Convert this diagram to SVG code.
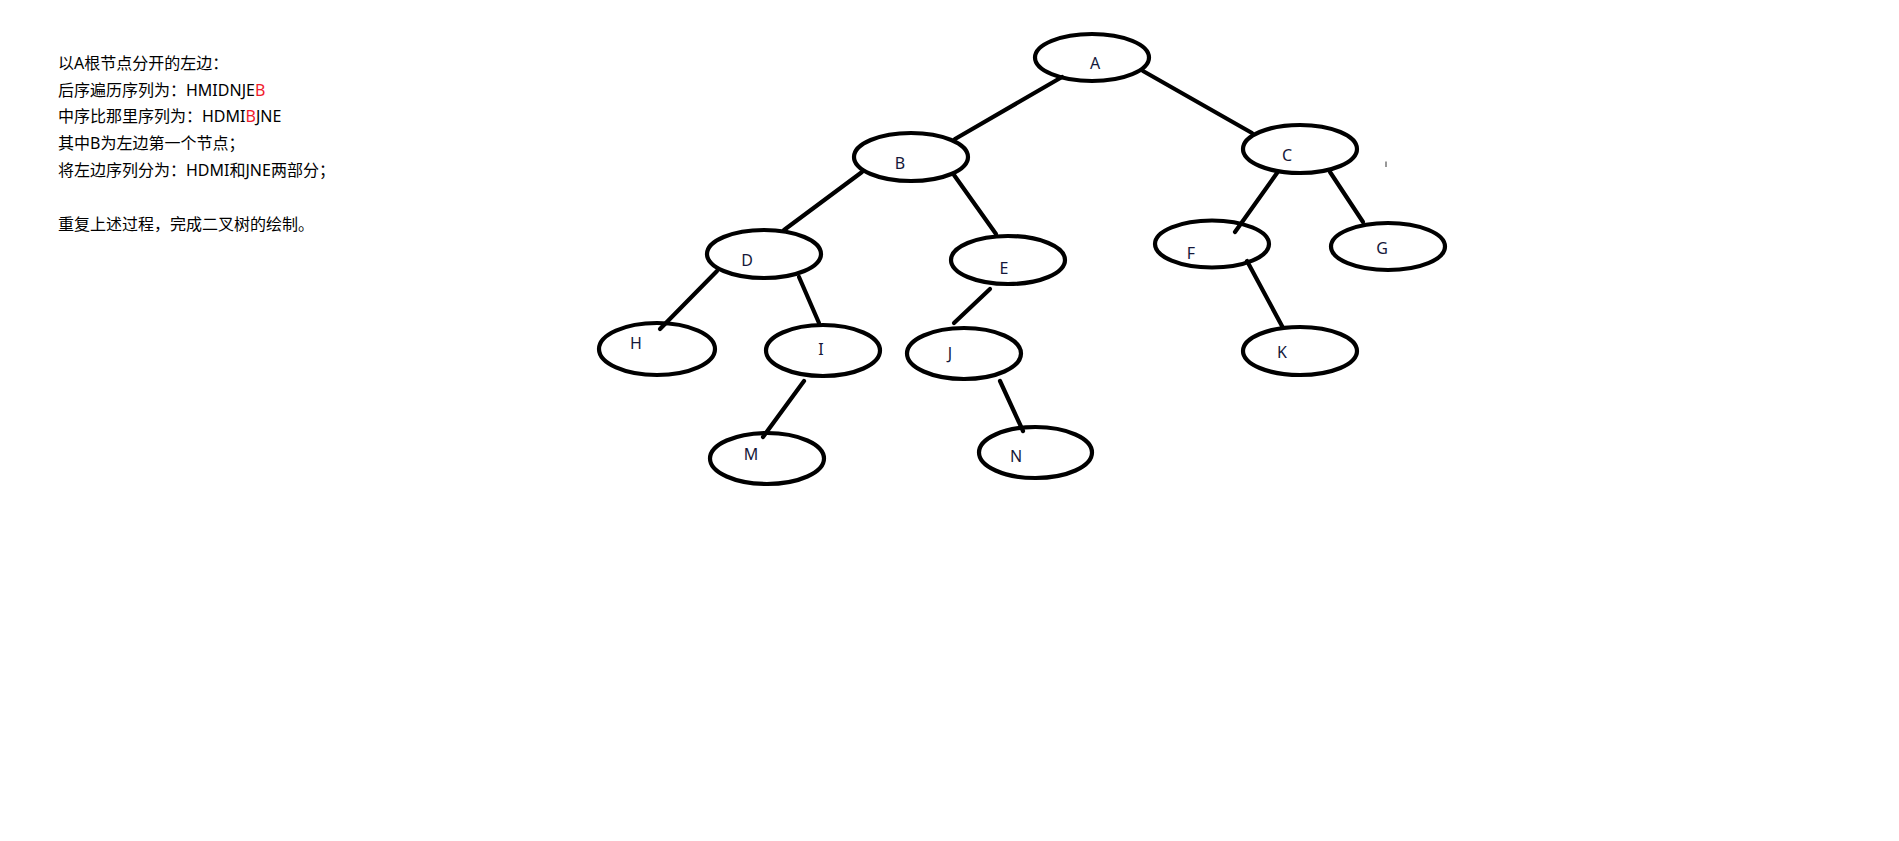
<svg xmlns="http://www.w3.org/2000/svg" width="1899" height="841" viewBox="0 0 1899 841">
<style>
.bg{fill:#ffffff}
.node ellipse{fill:none;stroke:#000;stroke-width:4.2}
.node text{font-family:"Noto Sans","Noto Sans CJK SC",sans-serif;font-size:16px;fill:#15183a;text-anchor:middle}
.edges line{stroke:#000;stroke-width:4.2;stroke-linecap:round}
.note{font-family:"Noto Sans","Noto Sans CJK SC",sans-serif;font-size:16px;fill:#000}
.red{fill:#f01c2c}
</style>
<rect class="bg" x="0" y="0" width="1899" height="841"/>
<g id="notes" class="note">
<text x="58" y="69">以A根节点分开的左边：</text>
<text x="58" y="95.7">后序遍历序列为：HMIDNJE<tspan class="red">B</tspan></text>
<text x="58" y="122.3">中序比那里序列为：HDMI<tspan class="red">B</tspan>JNE</text>
<text x="58" y="149">其中B为左边第一个节点；</text>
<text x="58" y="175.7">将左边序列分为：HDMI和JNE两部分；</text>
<text x="58" y="229.5">重复上述过程，完成二叉树的绘制。</text>
</g>
<g id="edges" class="edges">
<line x1="1062" y1="77" x2="955" y2="139"/>
<line x1="1143" y1="71" x2="1252" y2="133"/>
<line x1="862" y1="172" x2="784" y2="230"/>
<line x1="954" y1="175" x2="996" y2="234"/>
<line x1="1277" y1="173" x2="1235" y2="232"/>
<line x1="1330" y1="172" x2="1363" y2="222"/>
<line x1="717" y1="271" x2="660" y2="329"/>
<line x1="799" y1="277" x2="819" y2="323"/>
<line x1="990" y1="289" x2="954" y2="323"/>
<line x1="1247" y1="261" x2="1282" y2="326"/>
<line x1="804" y1="381" x2="763" y2="437"/>
<line x1="1000" y1="381" x2="1023" y2="431"/>
</g>
<g id="node-A" class="node"><ellipse cx="1092" cy="57.5" rx="57" ry="23.5"/><text x="1095" y="69">A</text></g>
<g id="node-B" class="node"><ellipse cx="911" cy="157" rx="57" ry="24"/><text x="900" y="169">B</text></g>
<g id="node-C" class="node"><ellipse cx="1300" cy="149" rx="57" ry="24"/><text x="1287" y="161">C</text></g>
<g id="node-D" class="node"><ellipse cx="764" cy="254" rx="57" ry="24"/><text x="747" y="266">D</text></g>
<g id="node-E" class="node"><ellipse cx="1008" cy="260" rx="57" ry="24"/><text x="1004" y="273.5">E</text></g>
<g id="node-F" class="node"><ellipse cx="1212" cy="244" rx="57" ry="23.5"/><text x="1191" y="258.5">F</text></g>
<g id="node-G" class="node"><ellipse cx="1388" cy="246.5" rx="57" ry="23.5"/><text x="1382" y="254">G</text></g>
<g id="node-H" class="node"><ellipse cx="657" cy="349" rx="58" ry="26"/><text x="636" y="349">H</text></g>
<g id="node-I" class="node"><ellipse cx="823" cy="350.5" rx="57" ry="25.5"/><text x="821" y="355">I</text></g>
<g id="node-J" class="node"><ellipse cx="964" cy="353.5" rx="57" ry="25.5"/><text x="950" y="359">J</text></g>
<g id="node-K" class="node"><ellipse cx="1300" cy="351" rx="57" ry="24"/><text x="1282" y="358">K</text></g>
<g id="node-M" class="node"><ellipse cx="767" cy="458.5" rx="57" ry="25.5"/><text x="751" y="460">M</text></g>
<g id="node-N" class="node"><ellipse cx="1035.5" cy="452.5" rx="56.5" ry="25.5"/><text x="1016" y="462">N</text></g>
<line x1="1386" y1="161.5" x2="1386" y2="167" stroke="#333" stroke-width="1"/>
</svg>
